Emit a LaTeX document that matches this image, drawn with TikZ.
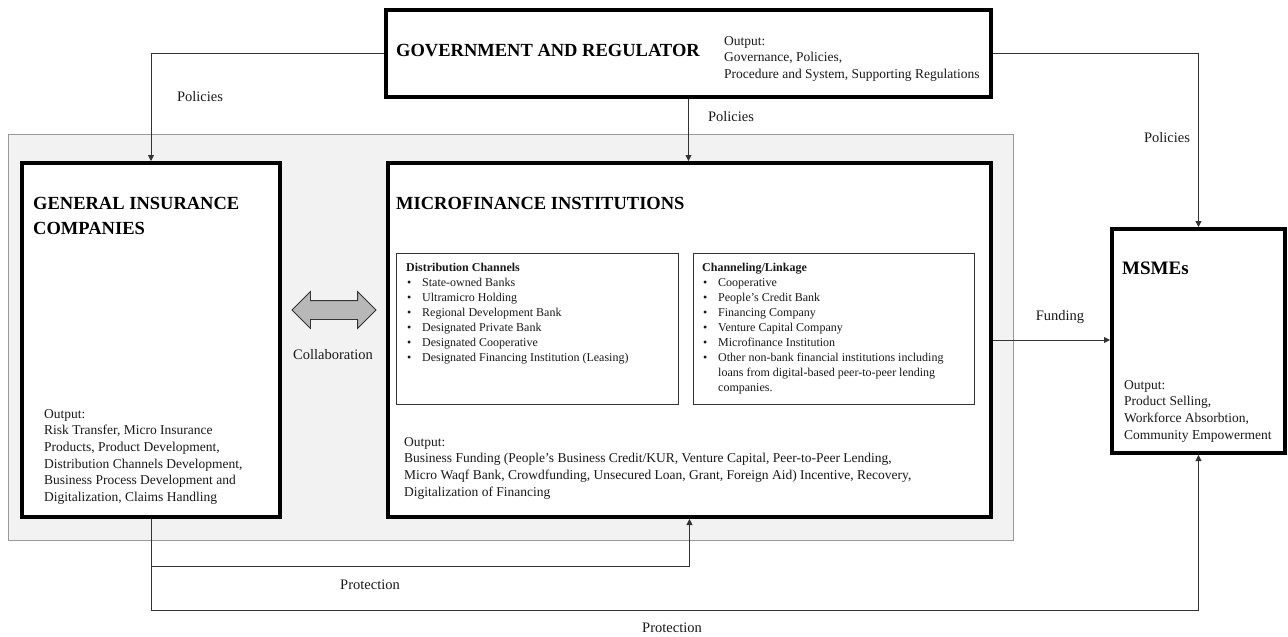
\documentclass[tikz,border=0pt]{standalone}
\usepackage{fontspec}
\setmainfont{Liberation Serif}
\usetikzlibrary{arrows.meta,shapes.arrows}
\newcommand{\bitem}{\makebox[16pt][l]{\hspace{1pt}\textbullet}}
\begin{document}
\begin{tikzpicture}[x=1pt,y=-1pt,
  thickbox/.style={draw=black, line width=4pt, fill=white, inner sep=0pt},
  thinbox/.style={draw=black!80, line width=1pt, fill=white, inner sep=0pt},
  conn/.style={draw=black!80, line width=0.9pt},
  arr/.style={conn, -{Triangle[length=6pt,width=6pt]}},
  lbl/.style={font=\fontsize{14.5}{17}\selectfont, inner sep=0pt, text=black!90},
  ttl/.style={font=\fontsize{18.5}{25}\selectfont\bfseries, inner sep=0pt, align=left},
  body/.style={font=\fontsize{13.5}{16.7}\selectfont, inner sep=0pt, align=left, text=black!90},
  small/.style={font=\fontsize{12}{15}\selectfont, inner sep=0pt, align=left, text=black!90},
]
\useasboundingbox (0,0) rectangle (1288,637);
% background panel
\node[draw=black!40, fill=black!5, line width=1pt, minimum width=1005pt, minimum height=406pt, inner sep=0pt] (bg) at (511,337.5) {};
% boxes
\node[thickbox, minimum width=605pt, minimum height=87pt] (gov) at (688.5,53.5) {};
\node[thickbox, minimum width=258pt, minimum height=354pt] (gic) at (151,340) {};
\node[thickbox, minimum width=603pt, minimum height=354pt] (mfi) at (689.5,340) {};
\node[thickbox, minimum width=173pt, minimum height=224pt] (msme) at (1198.5,341) {};
\node[thinbox, minimum width=282pt, minimum height=151pt] (dist) at (537.5,329) {};
\node[thinbox, minimum width=281pt, minimum height=151pt] (chan) at (834,329) {};
% texts
\node[ttl, anchor=west] (govt) at (396,51) {GOVERNMENT AND REGULATOR};
\node[body, anchor=north west] (govo) at (724,36) {Output:\\Governance, Policies,\\Procedure and System, Supporting Regulations};
\node[ttl, anchor=north west] (gict) at (33,197) {GENERAL INSURANCE\\COMPANIES};
\node[body, anchor=north west] (gico) at (44,409) {Output:\\Risk Transfer, Micro Insurance\\Products, Product Development,\\Distribution Channels Development,\\Business Process Development and\\Digitalization, Claims Handling};
\node[ttl, anchor=west] (mfit) at (396,203) {MICROFINANCE INSTITUTIONS};
\node[small, anchor=north west] (distt) at (406,263) {\textbf{Distribution Channels}\\
\bitem State-owned Banks\\
\bitem Ultramicro Holding\\
\bitem Regional Development Bank\\
\bitem Designated Private Bank\\
\bitem Designated Cooperative\\
\bitem Designated Financing Institution (Leasing)};
\node[small, anchor=north west] (chant) at (702,263) {\textbf{Channeling/Linkage}\\
\bitem Cooperative\\
\bitem People's Credit Bank\\
\bitem Financing Company\\
\bitem Venture Capital Company\\
\bitem Microfinance Institution\\
\bitem Other non-bank financial institutions including\\
\hspace*{16pt}loans from digital-based peer-to-peer lending\\
\hspace*{16pt}companies.};
\node[body, anchor=north west] (mfio) at (404,437) {Output:\\Business Funding (People's Business Credit/KUR, Venture Capital, Peer-to-Peer Lending,\\Micro Waqf Bank, Crowdfunding, Unsecured Loan, Grant, Foreign Aid) Incentive, Recovery,\\Digitalization of Financing};
\node[ttl, font=\fontsize{19}{25}\selectfont\bfseries, anchor=west] (msmet) at (1122,268) {MSMEs};
\node[body, anchor=north west] (msmeo) at (1124,380) {Output:\\Product Selling,\\Workforce Absorbtion,\\Community Empowerment};
% collaboration arrow
\node[double arrow, draw=black!80, fill=black!28, line width=0.8pt, minimum height=84pt, minimum width=0pt, double arrow head extend=9pt, inner xsep=0pt, inner ysep=9pt] (collab) at (334,310) {};
% connectors
\coordinate (p1) at (0,566);
\coordinate (p2) at (0,610);
\draw[arr] (gov.west) -| (gic.north);
\draw[arr] (gov.south) -- (gov.south |- mfi.north);
\draw[arr] (gov.east) -| (msme.north);
\draw[arr] (mfi.east) -- (mfi.east -| msme.west);
\draw[arr] (gic.south) -- (gic.south |- p1) -| (mfi.south);
\draw[arr] (gic.south) -- (gic.south |- p2) -| (msme.south);
% labels
\node[lbl] (l1) at (200,97) {Policies};
\node[lbl] (l2) at (731,117) {Policies};
\node[lbl] (l3) at (1167,138) {Policies};
\node[lbl] (l4) at (1060,317) {Funding};
\node[lbl] (l5) at (333,355) {Collaboration};
\node[lbl] (l6) at (370,585) {Protection};
\node[lbl] (l7) at (672,628) {Protection};
\end{tikzpicture}
\end{document}
